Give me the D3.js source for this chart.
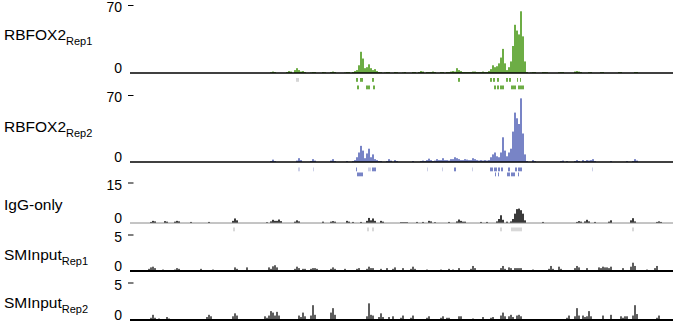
<!DOCTYPE html>
<html><head><meta charset="utf-8">
<script src="https://cdn.jsdelivr.net/npm/d3@7"></script>
<style>body{margin:0;background:#fff}svg{display:block}text{font-family:"Liberation Sans",Arial,Helvetica,sans-serif}</style>
</head><body><svg id="c" width="684" height="332"></svg>
<script>
// ---- data (genomic bin index, signal value) ----
const trackNames = ["RBFOX2", "RBFOX2", "IgG-only", "SMInput", "SMInput"];
const trackSubs = ["Rep1", "Rep2", "", "Rep1", "Rep2"];
const trackMax = [70, 70, 15, 5, 5];
const topTickLabels = ["70", "70", "15", "5", "5"];
const zeroTickLabel = "0";

const rep1 = [[70,0.8],[71,1.5],[72,1],[78,1],[79,2],[80,1.5],[82,3],[83,5],[84,3],[85,1.5],[86,2],[87,1],[90,0.5],[91,1],[92,1],[96,1],[97,0.8],[100,1],[101,1.5],[102,1],[107,0.5],[108,1],[109,1],
 [111,1],[112,2],[113,3],[114,8],[115,22],[116,15],[117,5],[118,6],[119,9],[120,5],[121,3],[122,4],[123,2],[124,1],[125,0.8],
 [127,0.5],[128,1],[129,1],[132,1],[133,0.8],[136,0.5],[137,1],[141,1],[142,1],[144,1],[145,2],[146,1.5],[148,1],[149,1],[150,1],[151,1.5],[152,1],[155,1],[156,1],[158,1],[159,1],
 [160,1.5],[161,2],[162,1.5],[163,5],[164,3],[165,2],[166,1],[167,1],[168,1],[169,1],[170,1],[171,1.5],[172,1.5],[173,1],[174,1],[175,1],[176,1.5],[177,1],[178,1],[179,2],
 [180,4],[181,8],[182,6],[183,7],[184,10],[185,16],[186,25],[187,10],[188,3],[189,6],[190,12],[191,28],[192,50],[193,44],[194,40],[195,64],[196,38],[197,12],[198,1],
 [200,0.5],[201,1],[202,1],[206,1],[207,1],[208,0.8],[214,0.8],[215,1],[216,1],[222,1.5],[223,2],[224,1.5],[225,1],[229,0.8],[230,1],[235,1],[236,1],[244,1],[245,1],[252,1],[253,1]];

const rep2 = [[70,1],[71,2.5],[72,1],[83,1.5],[84,4],[85,2],[90,1],[91,3],[92,1.5],[100,1.5],[101,3],[102,1],[108,1],[111,1],
 [112,2],[113,5],[114,10],[115,17],[116,12],[117,4],[118,9],[119,14],[120,5],[121,8],[122,3],[123,2],[124,1],[125,1],
 [128,1],[129,3],[130,1.5],[132,2],[133,1],[141,1],[145,1],[146,1.5],[147,1],[148,2],[149,3.5],[150,2],[151,1],[152,1.5],[153,3],[154,2],[155,2],[156,4],[157,2],[158,2],[159,1.5],
 [160,3],[161,3],[162,5],[163,4],[164,3],[165,2],[166,2],[167,3],[168,2.5],[169,2],[170,2],[171,4],[172,3],[173,2],[174,1.5],[175,2],[176,1.5],[177,2],[178,1.5],[179,2],
 [180,5],[181,8],[182,10],[183,6],[184,5],[185,10],[186,26],[187,12],[188,6],[189,10],[190,14],[191,32],[192,52],[193,46],[194,40],[195,67],[196,30],[197,8],[198,1],
 [201,2],[202,1],[215,1],[216,1.5],[218,1],[222,1],[223,2],[224,1],[226,2],[227,1],[228,2],[229,1.5],[230,2],[231,3],[232,1],[240,1],[248,1],[251,1],[252,3],[253,1.5]];

const igg = [[10,0.4],[11,0.8],[12,0.6],[17,0.7],[18,0.5],[22,0.5],[23,0.8],[24,0.6],[30,0.4],[39,0.4],[51,0.8],[52,1.7],[53,1],[68,0.3],[70,0.6],[71,1.2],[72,0.8],[73,0.8],[74,1.3],[75,0.7],
 [82,0.5],[83,1],[84,0.6],[96,0.5],[100,0.5],[101,0.7],[102,0.5],[108,0.8],[109,0.5],[111,0.4],[115,0.4],[118,0.8],[119,1.9],[120,1],[121,1.7],[122,0.8],[125,0.8],[126,0.5],
 [135,0.3],[136,0.3],[137,0.3],[138,0.3],[143,0.4],[146,0.4],[149,0.8],[150,0.6],[152,0.3],[159,0.4],[163,0.6],[164,1.3],[165,0.8],[166,0.5],[167,0.5],[175,0.4],[178,0.4],
 [183,0.6],[184,1.5],[185,2.9],[186,1.2],[188,0.5],[190,0.6],[191,1.5],[192,3.5],[193,5.2],[194,5.4],[195,4.8],[196,3.5],[197,1],
 [206,0.4],[223,0.4],[224,0.7],[225,0.5],[227,0.6],[228,1.2],[229,0.6],[232,0.4],[239,0.5],[240,1],[250,1],[251,1.8],[252,0.6],[263,0.4],[264,0.6],[265,0.4]];

const smInput1 = [[9,0.3],[10,0.5],[11,0.6],[12,0.4],[16,0.2],[22,0.2],[23,0.4],[24,0.3],[35,0.3],[41,0.2],[52,0.5],[53,0.3],[58,0.5],[69,0.5],[70,0.3],[71,0.65],[72,0.8],[73,0.5],
 [82,0.3],[83,0.6],[84,0.4],[86,0.3],[87,0.3],[90,0.3],[91,0.4],[92,0.4],[93,0.3],[100,0.3],[101,0.5],[102,0.3],[107,0.3],[113,0.3],[114,0.4],[118,0.3],[119,0.6],[120,0.4],[121,0.4],
 [125,0.3],[128,0.4],[131,0.3],[132,0.5],[136,0.4],[140,0.3],[141,0.6],[142,0.3],[148,0.2],[155,0.2],[159,0.3],[161,0.2],[164,0.4],[170,0.3],[171,0.7],[172,0.4],
 [185,0.4],[186,0.7],[187,0.3],[189,0.5],[190,0.4],[192,0.4],[193,0.4],[194,0.4],[195,0.4],[201,0.2],[209,0.3],[210,0.7],[211,0.3],[214,0.6],[215,0.3],[222,0.4],[223,0.7],[224,0.5],
 [228,0.4],[234,0.5],[235,0.4],[236,0.6],[237,0.5],[238,0.5],[239,0.4],[240,0.6],[246,0.4],[250,0.6],[251,1.15],[252,0.7],[258,0.2],[262,0.4],[263,0.7]];

const smInput2 = [[1,0.1],[10,0.3],[11,0.7],[12,0.3],[14,0.2],[18,0.4],[19,0.2],[38,0.4],[39,0.7],[40,0.5],[51,0.5],[52,0.9],[53,0.6],[67,0.5],[68,0.3],[69,0.6],[70,1.2],[71,1.0],[72,0.6],[73,1.1],[74,0.6],
 [80,0.1],[84,0.6],[85,0.4],[86,1.0],[87,0.5],[90,0.6],[91,2.0],[92,0.7],[96,0.1],[100,1.0],[101,1.6],[102,0.7],[105,0.1],[114,0.1],[118,0.5],[119,2.25],[120,0.7],[121,0.6],
 [124,0.4],[125,0.9],[126,0.4],[129,0.4],[131,0.5],[135,0.3],[136,0.6],[140,0.3],[141,0.6],[148,0.3],[149,0.5],[155,0.3],[156,0.5],[158,0.3],[159,0.3],[164,0.5],[165,0.5],
 [171,0.2],[176,0.4],[180,0.3],[181,0.4],[185,0.6],[186,1.0],[187,0.5],[189,0.5],[190,0.7],[191,0.4],[193,0.6],[194,0.7],[195,0.5],
 [206,0.1],[211,0.1],[218,0.3],[219,0.6],[222,0.5],[223,1.6],[224,0.6],[226,0.6],[227,0.4],[228,0.5],[229,1.2],[230,0.5],[236,0.6],[240,0.7],[245,0.5],[246,0.3],[247,0.5],[248,0.5],
 [251,0.6],[252,2.0],[253,0.8],[263,0.3],[264,0.6]];

// peak boxes: [start, end, row, light?]
const rep1Peaks = [[113,114,0,0],[115,116.5,0,0],[121,122,0,0],[164,165,0,0],[180,181,0,0],[181.5,182.5,0,0],[183.5,184.5,0,0],[188,189,0,0],[189.5,190.5,0,0],[193.5,194,0,0],[195,195.5,0,0],
 [83,84.5,0,1],
 [113.5,114.5,1,0],[118,120,1,0],[121.5,122.5,1,0],[182,183,1,0],[183.5,184.5,1,0],[185,187,1,0],[190.5,193,1,0],[194,197,1,0]];
const rep2Peaks = [[113,113.5,0,0],[121,123,0,0],[162,163,0,0],[180,181.5,0,0],[182,183.5,0,0],[184,185,0,0],[185.5,186.5,0,0],[189,190,0,0],[192.5,193.5,0,0],[194,196,0,0],
 [84,85,0,1],[91.5,92,0,1],[119,120.5,0,1],[148.5,149,0,1],[156,156.5,0,1],[171,171.5,0,1],[231,231.5,0,1],
 [113.5,116.5,1,0],[182.5,183,1,0],[184,184.5,1,0],[188.5,190,1,0],[190.5,192.5,1,0],[194,194.5,1,0]];
const iggPeaks = [[51.5,52.5,0,1],[118.5,119.5,0,1],[121,122,0,1],[185,186,0,1],[190.5,196,0,1],[251,252,0,1]];

const seriesList = [rep1, rep2, igg, smInput1, smInput2];
const peakList = [rep1Peaks, rep2Peaks, iggPeaks, [], []];

// ---- layout / style ----
const layout = [
  {top: 5.5, base: 73, labelY: 40, rows: [78, 85.5], bar: "#6dad45", dark: "#6dad45", light: "#d6d6d6", axis: "#000", axisW: 1.6},
  {top: 95.5, base: 162, labelY: 132, rows: [167.5, 172.5], bar: "#7884c6", dark: "#7884c6", light: "#ccd0e8", axis: "#000", axisW: 1.6},
  {top: 183, base: 223, labelY: 210, rows: [227.5], bar: "#3a3a3a", dark: "#3a3a3a", light: "#d8d8d8", axis: "#8a8a8a", axisW: 1},
  {top: 235, base: 271, labelY: 260, rows: [], bar: "#5e5e5e", dark: "#5e5e5e", light: "#ddd", axis: "#000", axisW: 1.8},
  {top: 283, base: 320, labelY: 308, rows: [], bar: "#5e5e5e", dark: "#5e5e5e", light: "#ddd", axis: "#000", axisW: 1.8}
];

const svg = d3.select("#c");
const x = d3.scaleLinear().domain([0, 271.5]).range([130, 673]);
const bw = x(1) - x(0);

layout.forEach((L, i) => {
  const y = d3.scaleLinear().domain([0, trackMax[i]]).range([L.base, L.top]);
  const g = svg.append("g");
  g.selectAll("rect.bar").data(seriesList[i]).join("rect").attr("class", "bar")
    .attr("x", d => x(d[0])).attr("width", bw)
    .attr("y", d => y(d[1])).attr("height", d => y(0) - y(d[1]))
    .attr("fill", L.bar);
  g.append("line").attr("x1", x(0)).attr("x2", x(271.5)).attr("y1", y(0)).attr("y2", y(0))
    .attr("stroke", L.axis).attr("stroke-width", L.axisW);
  // top tick
  g.append("line").attr("x1", 128).attr("x2", 133.5).attr("y1", y(trackMax[i])).attr("y2", y(trackMax[i]))
    .attr("stroke", "#000").attr("stroke-width", 1);
  g.append("text").attr("x", 122).attr("y", y(trackMax[i]) + 3).attr("text-anchor", "end")
    .attr("dominant-baseline", "middle").attr("font-size", 14).text(topTickLabels[i]);
  g.append("text").attr("x", 122).attr("y", y(0) - 3.5).attr("text-anchor", "end")
    .attr("dominant-baseline", "middle").attr("font-size", 14).text(zeroTickLabel);
  // label
  const t = g.append("text").attr("x", 4).attr("y", L.labelY).attr("font-size", 15.5);
  t.append("tspan").text(trackNames[i]);
  if (trackSubs[i]) t.append("tspan").attr("dy", 5).attr("font-size", 11).text(trackSubs[i]);
  // peaks
  g.selectAll("rect.pk").data(peakList[i]).join("rect").attr("class", "pk")
    .attr("x", d => x(d[0])).attr("width", d => Math.max(1, x(d[1]) - x(d[0])))
    .attr("y", d => L.rows[d[2]]).attr("height", 3.8)
    .attr("fill", d => d[3] ? L.light : L.dark);
});
</script></body></html>
